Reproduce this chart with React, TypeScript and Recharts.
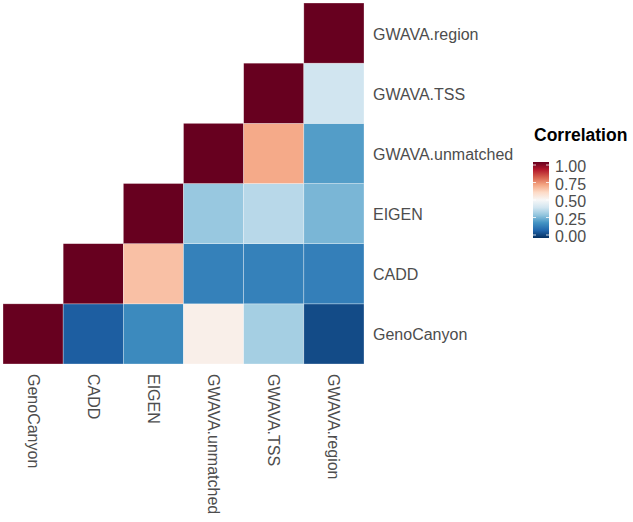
import React from "react";
import { ScatterChart, Scatter, XAxis, YAxis } from "recharts";

const methods = ["GenoCanyon", "CADD", "EIGEN", "GWAVA.unmatched", "GWAVA.TSS", "GWAVA.region"];

// one row per y category (bottom to top), values across the x categories
const corGenoCanyon = [1, 0.085, 0.18, 0.53, 0.33, 0.05];
const corCADD = [null, 1, 0.65, 0.16, 0.16, 0.155];
const corEIGEN = [null, null, 1, 0.31, 0.36, 0.27];
const corUnmatched = [null, null, null, 1, 0.69, 0.22];
const corTSS = [null, null, null, null, 1, 0.4];
const corRegion = [null, null, null, null, null, 1];

const legendTicks = [1, 0.75, 0.5, 0.25, 0];

// RdBu (11 class), low -> high
const PALETTE = [
  "#053061", "#2166ac", "#4393c3", "#92c5de", "#d1e5f0", "#f7f7f7",
  "#fddbc7", "#f4a582", "#d6604d", "#b2182b", "#67001f",
];

const W = 633;
const H = 522;
const M = { top: 3, left: 3, right: 0, bottom: 0 };
const X_AXIS_H = 158;
const Y_AXIS_W = 269;
const CELL = (W - M.left - M.right - Y_AXIS_W) / methods.length;
const TEXT = "#4d4d4d";
const FONT = "'Liberation Sans', Arial, Helvetica, sans-serif";

function hexToRgb(h: string) {
  const n = parseInt(h.slice(1), 16);
  return [(n >> 16) & 255, (n >> 8) & 255, n & 255];
}

function colorFor(v: number) {
  const t = Math.max(0, Math.min(1, v)) * (PALETTE.length - 1);
  const i = Math.min(PALETTE.length - 2, Math.floor(t));
  const f = t - i;
  const a = hexToRgb(PALETTE[i]);
  const b = hexToRgb(PALETTE[i + 1]);
  const c = a.map((ch, k) => Math.round(ch + (b[k] - ch) * f));
  return `rgb(${c[0]},${c[1]},${c[2]})`;
}

const rows = [corGenoCanyon, corCADD, corEIGEN, corUnmatched, corTSS, corRegion];
const cells = rows.flatMap((row, yi) =>
  row
    .map((v, xi) => ({ x: xi, y: yi, value: v }))
    .filter((d) => d.value !== null)
);

const CellShape = (props: any) => {
  const { cx, cy, payload } = props;
  return (
    <rect
      x={cx - CELL / 2}
      y={cy - CELL / 2}
      width={CELL}
      height={CELL}
      fill={colorFor(payload.value)}
      stroke="#ffffff"
      strokeOpacity={0.5}
      strokeWidth={0.6}
    />
  );
};

const XTick = (props: any) => {
  const { x, y, payload } = props;
  const ty = y + 2;
  return (
    <text
      x={x}
      y={ty}
      transform={`rotate(90, ${x}, ${ty})`}
      textAnchor="start"
      dominantBaseline="central"
      fill={TEXT}
      fontSize={16}
      fontFamily={FONT}
    >
      {methods[payload.value]}
    </text>
  );
};

const YTick = (props: any) => {
  const { x, y, payload } = props;
  return (
    <text
      x={x + 1}
      y={y + 1}
      textAnchor="start"
      dominantBaseline="central"
      fill={TEXT}
      fontSize={16}
      fontFamily={FONT}
    >
      {methods[payload.value]}
    </text>
  );
};

function ColorBar() {
  const barX = 533;
  const barTop = 162;
  const barH = 76;
  const barW = 16;
  const yFor = (v: number) => 165 + (1 - v) * 70;
  return (
    <svg width={W} height={H} style={{ position: "absolute", left: 0, top: 0, pointerEvents: "none" }}>
      <defs>
        <linearGradient id="corrGrad" x1="0" y1="1" x2="0" y2="0">
          {PALETTE.map((c, i) => (
            <stop key={i} offset={`${(i / (PALETTE.length - 1)) * 100}%`} stopColor={c} />
          ))}
        </linearGradient>
      </defs>
      <text x={534} y={141} fontSize={17.5} fontWeight="bold" fontFamily={FONT} fill="#000">
        Correlation
      </text>
      <rect x={barX} y={barTop} width={barW} height={barH} fill="url(#corrGrad)" />
      {legendTicks.map((v) => (
        <g key={v}>
          <line x1={barX} x2={barX + 3} y1={yFor(v)} y2={yFor(v)} stroke="#fff" strokeWidth={0.8} />
          <line x1={barX + barW - 3} x2={barX + barW} y1={yFor(v)} y2={yFor(v)} stroke="#fff" strokeWidth={0.8} />
          <text
            x={555}
            y={yFor(v) + 1.5}
            dominantBaseline="central"
            fontSize={16}
            fontFamily={FONT}
            fill={TEXT}
          >
            {v.toFixed(2)}
          </text>
        </g>
      ))}
    </svg>
  );
}

export default function App() {
  const ticks = methods.map((_, i) => i);
  return (
    <div style={{ position: "absolute", left: 0, top: 0, width: W, height: H, background: "#fff" }}>
      <ScatterChart width={W} height={H} margin={M}>
        <XAxis
          type="number"
          dataKey="x"
          domain={[-0.5, methods.length - 0.5]}
          ticks={ticks}
          interval={0}
          height={X_AXIS_H}
          axisLine={false}
          tickLine={false}
          tick={<XTick />}
        />
        <YAxis
          type="number"
          dataKey="y"
          orientation="right"
          domain={[-0.5, methods.length - 0.5]}
          ticks={ticks}
          interval={0}
          width={Y_AXIS_W}
          axisLine={false}
          tickLine={false}
          tick={<YTick />}
        />
        <Scatter data={cells} shape={<CellShape />} isAnimationActive={false} />
      </ScatterChart>
      <ColorBar />
    </div>
  );
}
